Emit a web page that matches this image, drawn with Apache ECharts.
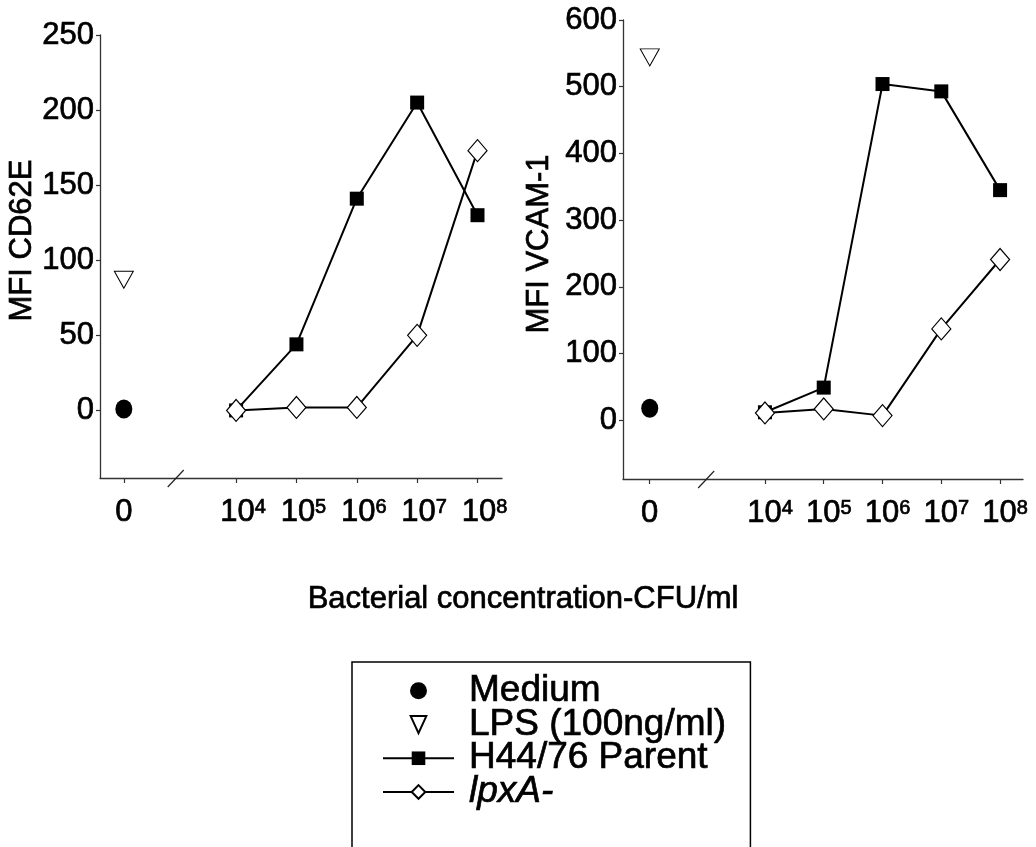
<!DOCTYPE html>
<html>
<head>
<meta charset="utf-8">
<title>CD62E and VCAM-1 expression</title>
<script src="https://cdn.jsdelivr.net/npm/echarts@6/dist/echarts.min.js"></script>
<style>
  html, body { margin: 0; padding: 0; background: #fff; }
  #chart { width: 1036px; height: 847px; }
</style>
</head>
<body>
<div id="chart"></div>
<script>
// Bacterial doses as log10(CFU/ml)
const doseExponents = [4, 5, 6, 7, 8];

// Series names
const seriesNames = ['Medium', 'LPS (100ng/ml)', 'H44/76 Parent', 'lpxA-'];

// MFI CD62E
const cd62eMedium = 1;
const cd62eLps = 87;
const cd62eParent = [0, 44, 141, 205, 130];
const cd62eLpxA = [0, 2, 2, 50, 173];

// MFI VCAM-1
const vcamMedium = 18;
const vcamLps = 544;
const vcamParent = [12, 49, 504, 493, 345];
const vcamLpxA = [11, 17, 7, 137, 241];

// Y tick labels
const cd62eTicks = [0, 50, 100, 150, 200, 250];
const vcamTicks = [0, 100, 200, 300, 400, 500, 600];

const FONT = '"Liberation Sans", Arial, Helvetica, sans-serif';
const INK = '#000';
// a thin outline makes the printed type a little heavier
const heavy = { textBorderColor: INK, textBorderWidth: 0.7 };

// Where the "0" (no bacteria) column sits, and where the axis is broken
const panels = [
  { grid: { left: 100, top: 35, width: 402, height: 443 },
    xMin: 1.745, xMax: 8.406, zeroSlot: 2.14, breakAt: 3,
    yMin: -45, yMax: 250, ticks: cd62eTicks, name: 'MFI CD62E', nameGap: 61, nameShift: 32,
    medium: cd62eMedium, lps: cd62eLps, parent: cd62eParent, lpxa: cd62eLpxA, supPad: 14 },
  { grid: { left: 623, top: 20, width: 400, height: 459 },
    xMin: 1.585, xMax: 8.39, zeroSlot: 2.04, breakAt: 3,
    yMin: -88, yMax: 600, ticks: vcamTicks, name: 'MFI VCAM-1', nameGap: 68, nameShift: 11,
    medium: vcamMedium, lps: vcamLps, parent: vcamParent, lpxa: vcamLpxA, supPad: 10 }
];

const grids = [], xAxes = [], yAxes = [], series = [];

panels.forEach((p, i) => {
  grids.push(Object.assign({ containLabel: false, outerBoundsMode: 'none' }, p.grid));

  const xStops = [p.zeroSlot].concat(doseExponents);
  xAxes.push({
    type: 'value', gridIndex: i, min: p.xMin, max: p.xMax,
    splitLine: { show: false },
    axisLine: { onZero: false, lineStyle: { color: '#333', width: 1.3 } },
    axisTick: { customValues: xStops, length: 5, lineStyle: { color: '#333', width: 1.2 } },
    axisLabel: {
      customValues: xStops,
      showMinLabel: true, showMaxLabel: true, hideOverlap: false,
      margin: 19,
      formatter: v => v < p.breakAt ? '{m|0}' : '{p|10}{s|' + Math.round(v) + '}',
      rich: {
        m: Object.assign({ fontFamily: FONT, fontSize: 31, color: INK, lineHeight: 31 }, heavy),
        p: Object.assign({ fontFamily: FONT, fontSize: 31, color: INK, lineHeight: 31, padding: [0, 0, 0, p.supPad] }, heavy),
        s: Object.assign({ fontFamily: FONT, fontSize: 20, color: INK, verticalAlign: 'top', lineHeight: 31 }, heavy)
      }
    }
  });

  yAxes.push({
    type: 'value', gridIndex: i, min: p.yMin, max: p.yMax,
    splitLine: { show: false },
    axisLine: { show: true, onZero: false, lineStyle: { color: '#333', width: 1.3 } },
    axisTick: { show: true, customValues: p.ticks, length: 4, lineStyle: { color: '#333', width: 1.2 } },
    axisLabel: Object.assign({ customValues: p.ticks, showMinLabel: true, showMaxLabel: true,
      margin: 6, fontFamily: FONT, fontSize: 31, color: INK }, heavy),
    name: p.name, nameLocation: 'middle', nameRotate: 90, nameGap: p.nameGap,
    nameTextStyle: Object.assign({ fontFamily: FONT, fontSize: 31, color: INK, padding: [0, 0, 0, p.nameShift] }, heavy)
  });

  series.push({
    name: seriesNames[0], type: 'scatter', xAxisIndex: i, yAxisIndex: i,
    data: [[p.zeroSlot, p.medium]], symbol: 'circle', symbolSize: [17, 19],
    itemStyle: { color: INK, opacity: 1 }, z: 3
  });
  series.push({
    name: seriesNames[1], type: 'scatter', xAxisIndex: i, yAxisIndex: i,
    data: [[p.zeroSlot, p.lps]], symbol: 'triangle', symbolRotate: 180, symbolSize: [19, 17],
    itemStyle: { color: '#fff', borderColor: INK, borderWidth: 1, opacity: 1 }, z: 3
  });
  series.push({
    name: seriesNames[2], type: 'line', xAxisIndex: i, yAxisIndex: i,
    data: doseExponents.map((e, k) => [e, p.parent[k]]),
    symbol: 'rect', symbolSize: 14, showSymbol: true,
    lineStyle: { color: INK, width: 2 },
    itemStyle: { color: INK }, z: 3
  });
  series.push({
    name: seriesNames[3], type: 'line', xAxisIndex: i, yAxisIndex: i,
    data: doseExponents.map((e, k) => [e, p.lpxa[k]]),
    symbol: 'diamond', symbolSize: [19, 22], showSymbol: true,
    lineStyle: { color: INK, width: 2 },
    itemStyle: { color: '#fff', borderColor: INK, borderWidth: 1.2 }, z: 4
  });
  // Slash marking the break in the x axis
  series.push({
    name: 'axis break', type: 'custom', xAxisIndex: i, yAxisIndex: i,
    data: [[p.breakAt, p.yMin]], clip: false, silent: true, z: 5,
    renderItem: (params, api) => {
      const c = api.coord([api.value(0), api.value(1)]);
      return {
        type: 'line',
        shape: { x1: c[0] - 8, y1: c[1] + 9, x2: c[0] + 8, y2: c[1] - 8 },
        style: { stroke: '#222', lineWidth: 1.2 }
      };
    }
  });
});

const legendText = Object.assign({ fontFamily: FONT, fontSize: 37, color: INK, lineHeight: 33 }, heavy);

const chart = echarts.init(document.getElementById('chart'), null, { renderer: 'canvas' });
chart.setOption({
  animation: false,
  backgroundColor: '#fff',
  grid: grids,
  xAxis: xAxes,
  yAxis: yAxes,
  series: series,
  legend: {
    data: [
      { name: seriesNames[0] },
      { name: seriesNames[1], icon: 'path://M0,0 L12,0 L6,13 Z' },
      { name: seriesNames[2] },
      { name: seriesNames[3] }
    ],
    orient: 'vertical',
    left: 352, top: 662, height: 320,
    itemWidth: 71, itemHeight: 17, itemGap: -4,
    padding: [10, 24, 80, 30],
    borderColor: INK, borderWidth: 1.5,
    selectedMode: false,
    textStyle: Object.assign({ padding: [0, 0, 0, 10],
      rich: { i: Object.assign({ fontStyle: 'italic' }, legendText) } }, legendText),
    formatter: name => name === 'lpxA-' ? '{i|lpxA-}' : name
  },
  graphic: [{
    type: 'text', x: 523, y: 599,
    style: Object.assign({
      text: 'Bacterial concentration-CFU/ml',
      font: '31px ' + FONT, fill: INK, align: 'center', verticalAlign: 'middle'
    }, { stroke: INK, lineWidth: 0.7 })
  }]
});
</script>
</body>
</html>
